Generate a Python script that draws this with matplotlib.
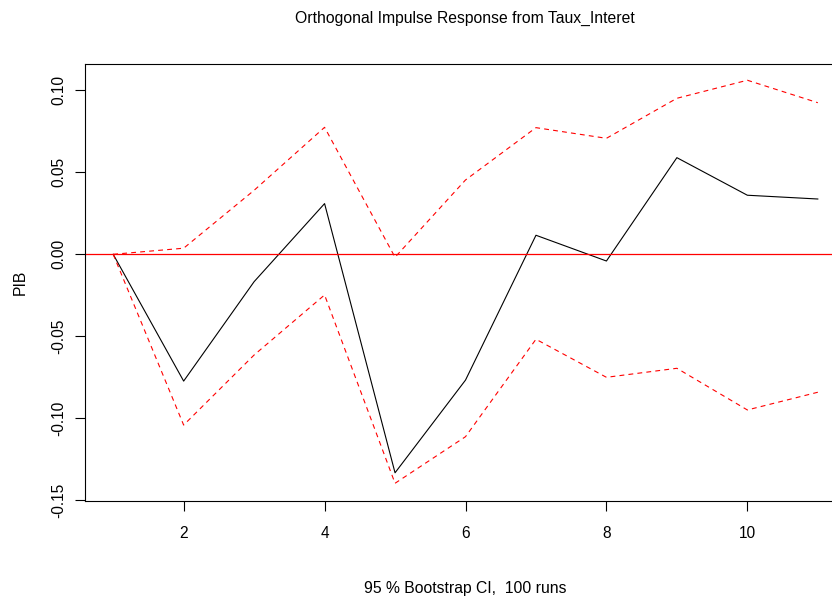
import matplotlib
matplotlib.use("Agg")
import matplotlib.pyplot as plt
import numpy as np

plt.rcParams['font.family'] = ['Liberation Sans', 'DejaVu Sans']
plt.rcParams['lines.scale_dashes'] = False

# impulse response of PIB to a Taux_Interet shock, with bootstrap bands
horizon = [1, 2, 3, 4, 5, 6, 7, 8, 9, 10, 11]
irf = [0.0, -0.0773, -0.0167, 0.0309, -0.1332, -0.0767, 0.0116, -0.0041, 0.0589, 0.0360, 0.0337]
upper = [0.0, 0.0037, 0.0390, 0.0774, -0.0018, 0.0453, 0.0772, 0.0707, 0.0951, 0.1061, 0.0924]
lower = [0.0, -0.1041, -0.0614, -0.0248, -0.1396, -0.1112, -0.0518, -0.0750, -0.0695, -0.0949, -0.0841]

xticks = [2, 4, 6, 8, 10]
yticks = [-0.15, -0.10, -0.05, 0.00, 0.05, 0.10]

fig = plt.figure(figsize=(8.32, 5.96), dpi=100)
# right edge of the box falls outside the picture, as in the original
ax = fig.add_axes([85 / 832, 95 / 596, 761 / 832, 437 / 596])

ax.plot(horizon, irf, color='black', lw=0.8)
ax.plot(horizon, upper, color='red', lw=0.8, dashes=(3.5, 3))
ax.plot(horizon, lower, color='red', lw=0.8, dashes=(3.5, 3))
ax.axhline(0, color='red', lw=0.9)

# R-style 4% padding around data range
ax.set_xlim(0.6, 11.4)
ax.set_ylim(-0.1504, 0.1160)

ax.set_xticks(xticks)
ax.set_xticklabels([str(t) for t in xticks])
ax.set_yticks(yticks)
ax.set_yticklabels([f"{t:.2f}" for t in yticks], rotation=90, va='center')
ax.tick_params(direction='out', length=7, width=0.8, labelsize=11.2, pad=11)
ax.tick_params(axis='y', pad=6.5)
for s in ax.spines.values():
    s.set_linewidth(0.8)

fig.text(465 / 832, 1 - 18 / 596, "Orthogonal Impulse Response from Taux_Interet",
         ha='center', va='center', fontsize=11.3)
fig.text(465 / 832, 1 - 588 / 596, "95 % Bootstrap CI,  100 runs",
         ha='center', va='center', fontsize=11.3)
fig.text(20 / 832, 1 - 282 / 596, "PIB", rotation=90,
         ha='center', va='center', fontsize=11.3)

fig.savefig("out.png", dpi=100)
